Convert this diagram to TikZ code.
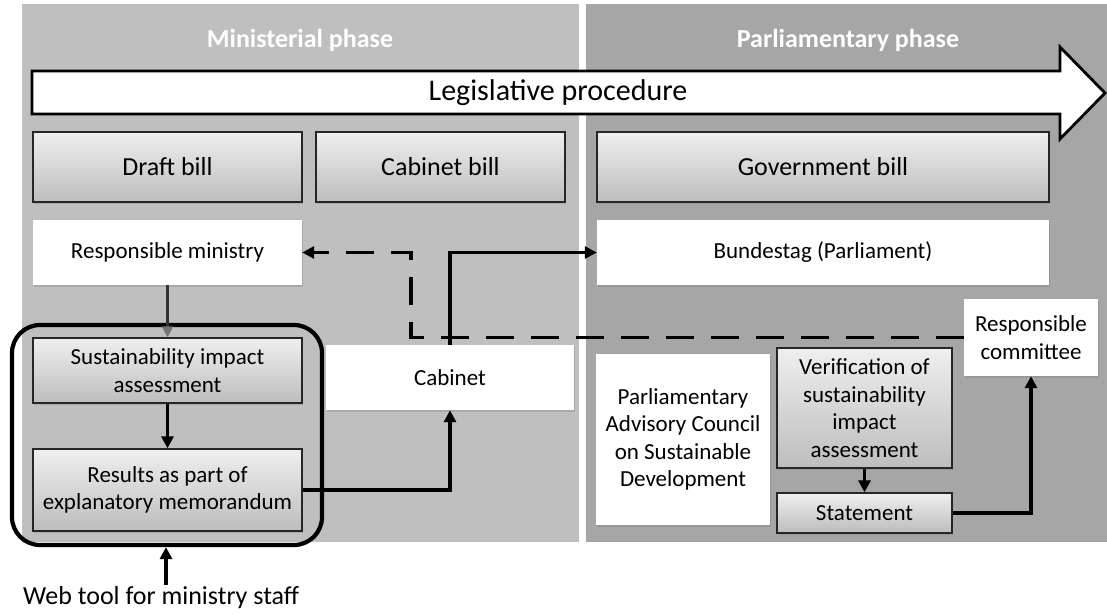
\documentclass[tikz,border=0pt]{standalone}
\usepackage{fontspec}
\setmainfont{Carlito}
\usetikzlibrary{arrows.meta,shadows,calc}
\definecolor{minbg}{HTML}{BFBFBF}
\definecolor{parbg}{HTML}{A6A6A6}
\definecolor{gtop}{HTML}{EFEFEF}
\definecolor{gbot}{HTML}{BDBDBD}
\newcommand{\fsBig}{\fontsize{26}{30}\selectfont}
\newcommand{\fsMid}{\fontsize{23}{27.5}\selectfont}
\tikzset{
  title/.style={text=white, font=\fontsize{26}{30}\selectfont\bfseries},
  gbox/.style={draw=black!85, line width=1.3pt, top color=gtop, bottom color=gbot,
     inner sep=0pt, align=center, font=\fsMid,
     drop shadow={shadow xshift=1.2pt, shadow yshift=-1.5pt, opacity=0.35}},
  wbox/.style={fill=white, draw=none, inner sep=0pt, align=center, font=\fsMid,
     drop shadow={shadow xshift=1.2pt, shadow yshift=-1.5pt, opacity=0.35}},
  conn/.style={line width=3.6pt, -{Triangle[length=12pt,width=12pt]}},
  dconn/.style={line width=3.6pt, dash pattern=on 28pt off 17pt, -{Triangle[length=12pt,width=12pt]}},
}
\begin{document}
\begin{tikzpicture}[x=1pt,y=-1pt]
\useasboundingbox (0,0) rectangle (1107,614);
% panels
\fill[minbg] (22,4) rectangle (579,542);
\fill[parbg] (586,4) rectangle (1107,542);
\node[title] (tmin) at (300,40) {Ministerial phase};
\node[title] (tpar) at (848,40) {Parliamentary phase};
% big arrow
\draw[fill=white, line width=2.8pt, line join=miter]
  (32,71) -- (1060,71) -- (1060,47) -- (1105,93) -- (1060,139) -- (1060,114) -- (32,114) -- cycle;
\node[font=\fontsize{30}{34}\selectfont] (proc) at (558,93) {Legislative procedure};
% bills
\node[gbox, font=\fsBig, minimum width=269pt, minimum height=70pt] (draft) at (167.5,167) {Draft bill};
\node[gbox, font=\fsBig, minimum width=249pt, minimum height=70pt] (cabbill) at (440.5,167) {Cabinet bill};
\node[gbox, font=\fsBig, minimum width=452pt, minimum height=70pt] (govbill) at (823,167) {Government bill};
% white boxes
\node[wbox, minimum width=269pt, minimum height=65pt] (ministry) at (167.5,252.5) {Responsible ministry};
\node[wbox, minimum width=452pt, minimum height=65pt] (bundestag) at (823,252.5) {Bundestag (Parliament)};
\node[wbox, minimum width=248pt, minimum height=65pt] (cabinet) at (450,377.5) {Cabinet};
\node[wbox, minimum width=174pt, minimum height=171pt] (pac) at (683,439.5) {Parliamentary\\Advisory Council\\on Sustainable\\Development};
\node[wbox, minimum width=134pt, minimum height=77pt] (committee) at (1031,337.5) {Responsible\\committee};
% gradient boxes lower
\node[gbox, minimum width=269pt, minimum height=65pt] (sust) at (167.5,370.5) {Sustainability impact\\assessment};
\node[gbox, minimum width=269pt, minimum height=82pt] (results) at (167.5,490) {Results as part of\\explanatory memorandum};
\node[gbox, minimum width=175pt, minimum height=120pt] (verif) at (864.5,408) {Verification of\\sustainability\\impact\\assessment};
\node[gbox, minimum width=175pt, minimum height=40pt] (statement) at (864.5,513) {Statement};
% rounded frame
\node[draw, line width=4.2pt, rounded corners=28pt, minimum width=310pt, minimum height=220pt, inner sep=0pt] (frame) at (167,435) {};
% web tool
\node[font=\fsBig, anchor=west, inner sep=0pt] (web) at (23,598) {Web tool for ministry staff};
% connectors
\draw[line width=2.6pt, draw=black!80, -{Triangle[length=11pt,width=11pt, color=black!55, fill=black!55]}] (ministry.south) -- (sust.north);
\draw[conn] (sust.south) -- (results.north);
\draw[conn] (results.east) -| (cabinet.south);
\coordinate (dk) at (411,337.5);
\draw[dconn] (committee.west) -- (dk) |- (ministry.east);
\draw[conn] (cabinet.north) |- (bundestag.west);
\draw[conn] (verif.south) -- (statement.north);
\draw[conn] (statement.east) -| (committee.south);
\coordinate (wt) at (166,585);
\draw[conn] (wt) -- (wt |- frame.south);
\end{tikzpicture}
\end{document}
